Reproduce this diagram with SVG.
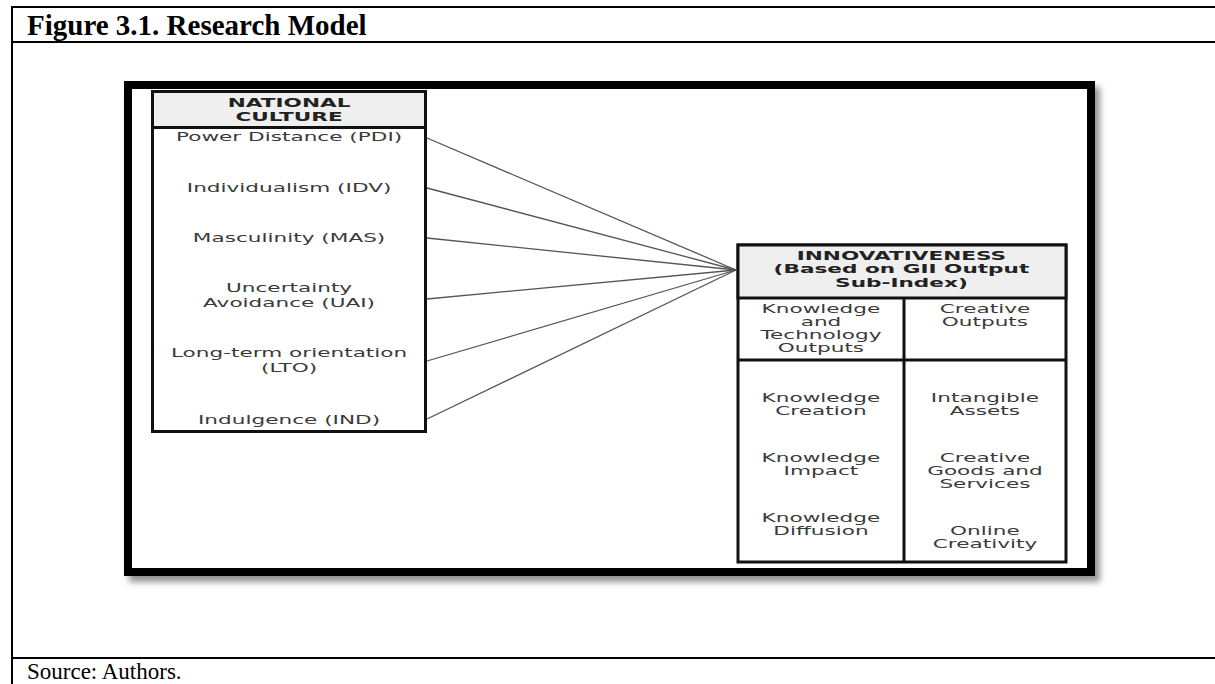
<svg xmlns="http://www.w3.org/2000/svg" width="1215" height="684" viewBox="0 0 1215 684">
<style>
.tbl{stroke:#000;stroke-width:2;fill:none}
.title{font-family:"Liberation Serif",serif;font-weight:bold;font-size:29px;fill:#000}
.src{font-family:"Liberation Serif",serif;font-size:23px;fill:#000}
.box{fill:#fff;stroke:#111;stroke-width:3}
.hdr{fill:#efefef;stroke:#111;stroke-width:3}
.sep{stroke:#111;stroke-width:3}
.t{font-family:"DejaVu Sans",Verdana,sans-serif;font-size:12px;fill:#3a3a3a;text-anchor:middle}
.b{font-family:"DejaVu Sans",Verdana,sans-serif;font-size:12px;font-weight:bold;fill:#222;text-anchor:middle}
.conn{stroke:#555;stroke-width:1.3;fill:none}
</style>
<defs>
<filter id="shadow" x="-5%" y="-5%" width="112%" height="115%">
<feDropShadow dx="5" dy="6" stdDeviation="3" flood-color="#777" flood-opacity="0.8"/>
</filter>
</defs>
<rect width="1215" height="684" fill="#fff"/>
<g id="table">
<line class="tbl" x1="12" y1="7" x2="1215" y2="7"/>
<line class="tbl" x1="12" y1="6" x2="12" y2="684"/>
<line class="tbl" x1="12" y1="42" x2="1215" y2="42"/>
<line class="tbl" x1="12" y1="658" x2="1215" y2="658"/>
<text class="title" x="27" y="35">Figure 3.1. Research Model</text>
<text class="src" x="27" y="679">Source: Authors.</text>
</g>
<g id="frame">
<rect x="128" y="85" width="963" height="487" fill="#fff" stroke="#000" stroke-width="8" filter="url(#shadow)"/>
</g>
<g id="connectors">
<line class="conn" x1="427" y1="138" x2="736" y2="270"/>
<line class="conn" x1="427" y1="188" x2="736" y2="270"/>
<line class="conn" x1="427" y1="238" x2="736" y2="270"/>
<line class="conn" x1="427" y1="299" x2="736" y2="270"/>
<line class="conn" x1="427" y1="361" x2="736" y2="270"/>
<line class="conn" x1="427" y1="419" x2="736" y2="270"/>
</g>
<g id="national-culture">
<rect class="box" x="152.5" y="91.5" width="273" height="340"/>
<rect class="hdr" x="152.5" y="91.5" width="273" height="36"/>
<g transform="scale(1.8,1)">
<text class="b" x="160.6" y="107">NATIONAL</text>
<text class="b" x="160.6" y="121">CULTURE</text>
<text class="t" x="160.6" y="141">Power Distance (PDI)</text>
<text class="t" x="160.6" y="192">Individualism (IDV)</text>
<text class="t" x="160.6" y="242">Masculinity (MAS)</text>
<text class="t" x="160.6" y="292">Uncertainty</text>
<text class="t" x="160.6" y="307">Avoidance (UAI)</text>
<text class="t" x="160.6" y="357">Long-term orientation</text>
<text class="t" x="160.6" y="372">(LTO)</text>
<text class="t" x="160.6" y="424">Indulgence (IND)</text>
</g>
</g>
<g id="innovativeness">
<rect class="box" x="738" y="245" width="328" height="317"/>
<rect class="hdr" x="738" y="245" width="328" height="53"/>
<line class="sep" x1="738" y1="360" x2="1066" y2="360"/>
<line class="sep" x1="904" y1="298" x2="904" y2="562"/>
<g transform="scale(1.8,1)">
<text class="b" x="500.8" y="260">INNOVATIVENESS</text>
<text class="b" x="500.8" y="273">(Based on GII Output</text>
<text class="b" x="500.8" y="287">Sub-Index)</text>
<text class="t" x="456.1" y="313">Knowledge</text>
<text class="t" x="456.1" y="326">and</text>
<text class="t" x="456.1" y="339">Technology</text>
<text class="t" x="456.1" y="352">Outputs</text>
<text class="t" x="547.2" y="313">Creative</text>
<text class="t" x="547.2" y="326">Outputs</text>
<text class="t" x="456.1" y="402">Knowledge</text>
<text class="t" x="456.1" y="415">Creation</text>
<text class="t" x="547.2" y="402">Intangible</text>
<text class="t" x="547.2" y="415">Assets</text>
<text class="t" x="456.1" y="462">Knowledge</text>
<text class="t" x="456.1" y="475">Impact</text>
<text class="t" x="547.2" y="462">Creative</text>
<text class="t" x="547.2" y="475">Goods and</text>
<text class="t" x="547.2" y="488">Services</text>
<text class="t" x="456.1" y="522">Knowledge</text>
<text class="t" x="456.1" y="535">Diffusion</text>
<text class="t" x="547.2" y="535">Online</text>
<text class="t" x="547.2" y="548">Creativity</text>
</g>
</g>
</svg>
